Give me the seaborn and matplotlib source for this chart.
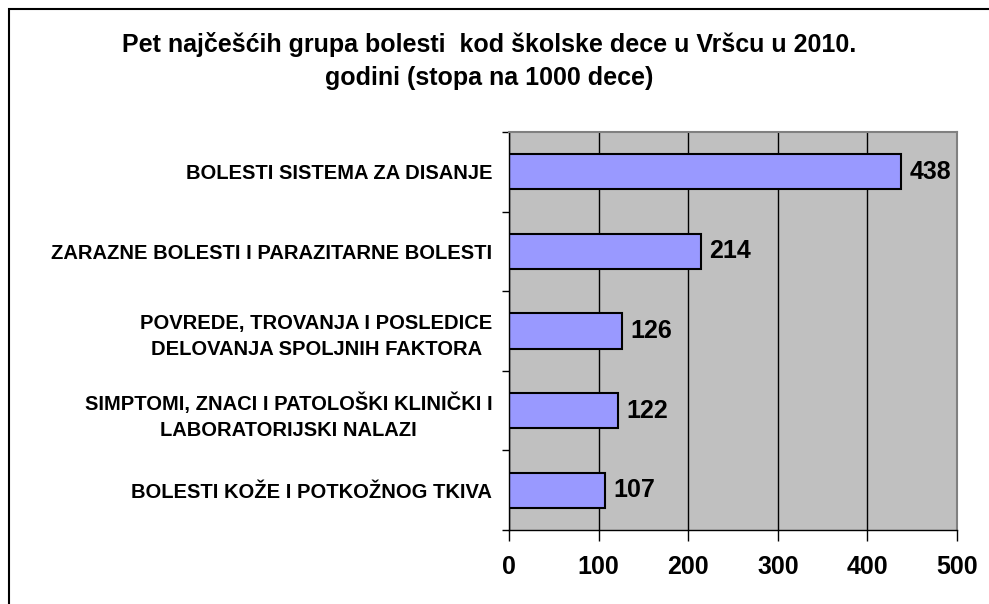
import matplotlib
matplotlib.use('Agg')
import matplotlib.pyplot as plt
import matplotlib.patches as mpatches
import seaborn as sns
import pandas as pd

# data (stopa na 1000 dece)
categories = [
    'BOLESTI SISTEMA ZA DISANJE',
    'ZARAZNE BOLESTI I PARAZITARNE BOLESTI',
    'POVREDE, TROVANJA I POSLEDICE\nDELOVANJA SPOLJNIH FAKTORA',
    'SIMPTOMI, ZNACI I PATOLOŠKI KLINIČKI I\nLABORATORIJSKI NALAZI',
    'BOLESTI KOŽE I POTKOŽNOG TKIVA',
]
rates = [438, 214, 126, 122, 107]
x_ticks = [0, 100, 200, 300, 400, 500]

title = ('Pet najčešćih grupa bolesti  kod školske dece u Vršcu u 2010.\n'
         'godini (stopa na 1000 dece)')

df = pd.DataFrame({'bolest': categories, 'stopa': rates})

sns.set_style('white')
plt.rcParams['font.family'] = ['Liberation Sans', 'DejaVu Sans']
plt.rcParams['text.color'] = 'black'
plt.rcParams['xtick.color'] = 'black'
plt.rcParams['ytick.color'] = 'black'

fig = plt.figure(figsize=(9.89, 6.04), dpi=100)
ax = fig.add_axes([509/989, 1-530/604, (957-509)/989, (530-132)/604])
ax.set_facecolor('#c0c0c0')

sns.barplot(data=df, x='stopa', y='bolest', orient='h', color='#9999ff',
            saturation=1, width=0.44, edgecolor='black', linewidth=1.5, ax=ax)

ax.set_xlim(0, 500)
ax.set_ylim(4.5, -0.5)
ax.set_xticks(x_ticks)
ax.set_xticklabels([str(t) for t in x_ticks], fontsize=18, fontweight='bold')
ax.tick_params(axis='x', direction='out', length=8, width=1, color='black', pad=10, bottom=True)

# category labels at the centres, short ticks at the boundaries
ax.set_yticks(range(len(categories)))
ax.set_yticklabels(categories, fontsize=14.5, fontweight='bold',
                   multialignment='center', linespacing=1.45)
ax.tick_params(axis='y', which='major', length=0, pad=12)
ax.set_yticks([i + 0.5 for i in range(-1, len(categories))], minor=True)
ax.tick_params(axis='y', which='minor', direction='out', length=5, width=1, color='black', left=True)

ax.xaxis.grid(True, color='black', linewidth=1)
ax.set_axisbelow(True)
ax.set_xlabel('')
ax.set_ylabel('')

for side in ['top', 'right']:
    ax.spines[side].set_color('#808080')
    ax.spines[side].set_linewidth(1.5)
for side in ['left', 'bottom']:
    ax.spines[side].set_color('black')
    ax.spines[side].set_linewidth(1)

ax.bar_label(ax.containers[0], fmt='%d', padding=6, fontsize=18, fontweight='bold')

fig.text(489/989, 1-61/604, title, ha='center', va='center', fontsize=18,
         fontweight='bold', linespacing=1.5)

fig.patches.append(mpatches.Rectangle((8.5/989, -0.1), 1.2, 1.1 - 8.5/604,
                                      transform=fig.transFigure, fill=False,
                                      edgecolor='black', linewidth=1.5))

fig.savefig('out.png', dpi=100)
